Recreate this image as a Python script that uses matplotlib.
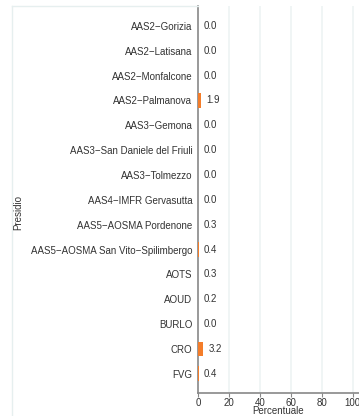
import numpy as np
import matplotlib
matplotlib.use("Agg")
import matplotlib.pyplot as plt
from matplotlib.lines import Line2D

plt.rcParams['font.family'] = ['Liberation Sans', 'DejaVu Sans']

# dati
presidi = ["AAS2\u2212Gorizia", "AAS2\u2212Latisana", "AAS2\u2212Monfalcone",
           "AAS2\u2212Palmanova", "AAS3\u2212Gemona", "AAS3\u2212San Daniele del Friuli",
           "AAS3\u2212Tolmezzo", "AAS4\u2212IMFR Gervasutta", "AAS5\u2212AOSMA Pordenone",
           "AAS5\u2212AOSMA San Vito\u2212Spilimbergo", "AOTS", "AOUD", "BURLO", "CRO", "FVG"]
percentuale = [0.0, 0.0, 0.0, 1.9, 0.0, 0.0, 0.0, 0.0, 0.3, 0.4, 0.3, 0.2, 0.0, 3.2, 0.4]
xticks = [0, 20, 40, 60, 80, 100]

W, H = 359, 416
fig = plt.figure(figsize=(W / 100, H / 100), dpi=100)
ax = fig.add_axes([198 / W, (H - 393) / H, 1 - 198 / W, (393 - 6) / H])

y = np.arange(len(presidi))
ax.barh(y, percentuale, height=0.6, color="#F47D2A", zorder=3)
for yi, v in zip(y, percentuale):
    ax.annotate(f"{v:.1f}", (v, yi), xytext=(3.8, 0), textcoords="offset points",
                va="center", ha="left", fontsize=7, color="#333333")

ax.set_xlim(0, 104)
ax.set_ylim(len(presidi) - 0.23, -0.8)
ax.set_yticks(y)
ax.set_yticklabels(presidi, fontsize=7, color="#333333")
ax.set_xticks(xticks)
ax.set_xticklabels([str(t) for t in xticks], fontsize=7, color="#333333")
ax.tick_params(axis="y", length=0, pad=4)
ax.tick_params(axis="x", length=3, width=0.8, color="#888888", pad=0.5)
ax.set_xlabel("Percentuale", fontsize=7, color="#333333", labelpad=-1)

for s in ["top", "right"]:
    ax.spines[s].set_visible(False)
for s in ["left", "bottom"]:
    ax.spines[s].set_color("#888888")
    ax.spines[s].set_linewidth(1.2)

for t in xticks[1:]:
    ax.axvline(t, color="#EEF4F4", lw=1.2, zorder=0)

# bordo tenue del pannello etichette
fig.add_artist(Line2D([12 / W, 12 / W], [0, (H - 6) / H], color="#E6EFEF", lw=1))
fig.add_artist(Line2D([12 / W, 198 / W], [(H - 6) / H, (H - 6) / H], color="#E6EFEF", lw=1))

fig.text(18 / W, (H - 212) / H, "Presidio", rotation=90, fontsize=7,
         color="#333333", ha="center", va="center")

fig.savefig("out.png", dpi=100)
